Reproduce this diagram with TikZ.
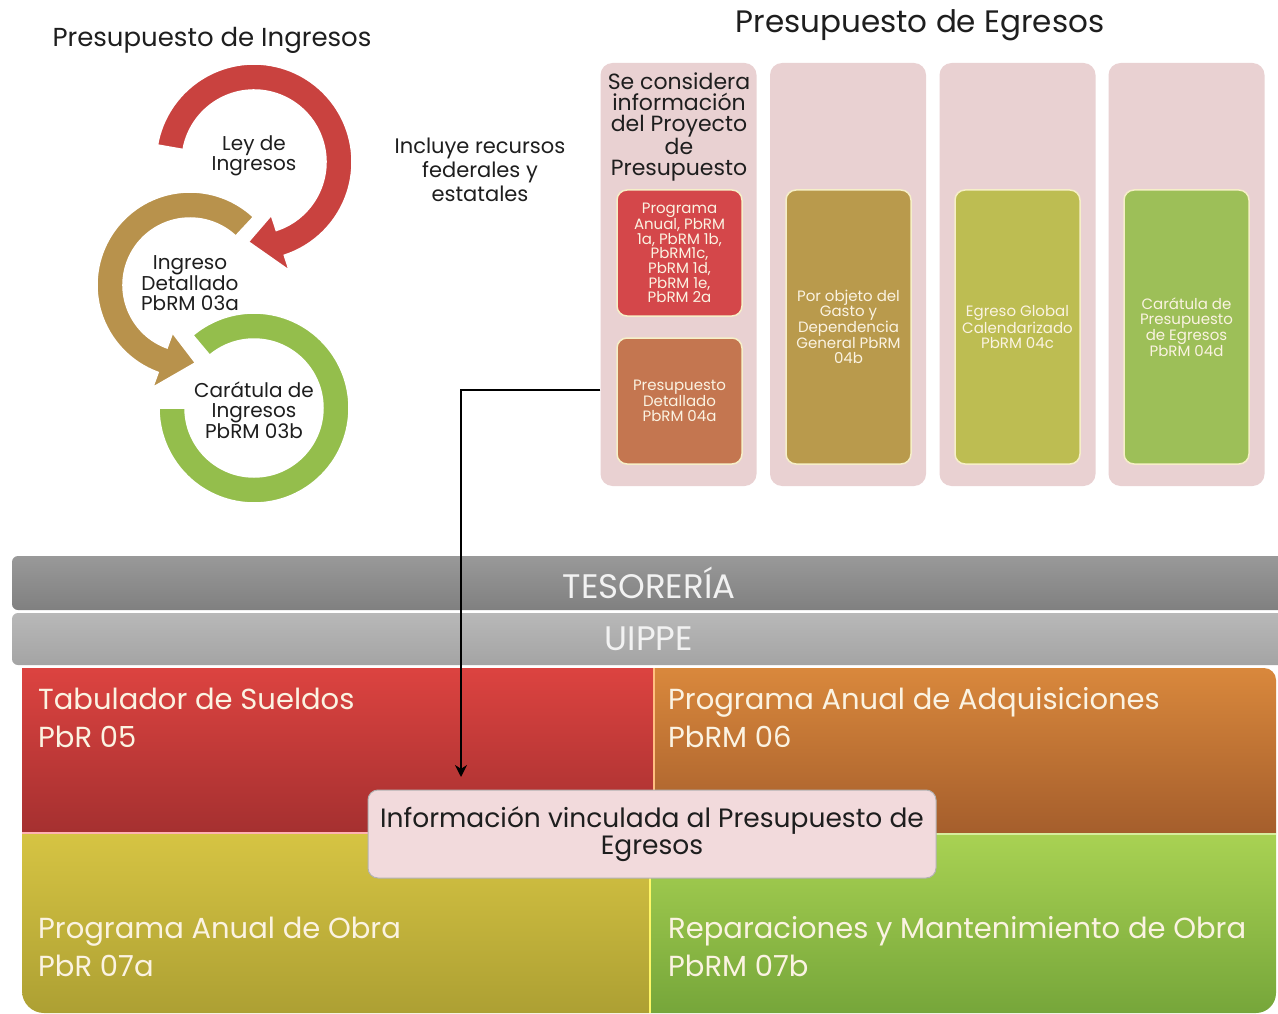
\documentclass[tikz,border=0pt]{standalone}
\usepackage{fontspec}
\setmainfont{Poppins}
\usetikzlibrary{arrows.meta,calc}
\definecolor{pinkpanel}{HTML}{E9D1D2}
\definecolor{boxedge}{HTML}{F6EFC8}
\definecolor{boxA}{HTML}{D4474A}
\definecolor{boxB}{HTML}{C47650}
\definecolor{boxC}{HTML}{B99A4C}
\definecolor{boxD}{HTML}{BDBD52}
\definecolor{boxE}{HTML}{9DBF58}
\definecolor{rring}{HTML}{C9423F}
\definecolor{tring}{HTML}{B8924C}
\definecolor{gring}{HTML}{94BE4C}
\definecolor{redT}{HTML}{DC4340}
\definecolor{redB}{HTML}{A53030}
\definecolor{oraT}{HTML}{D9883C}
\definecolor{oraB}{HTML}{A55E2C}
\definecolor{yelT}{HTML}{D6C443}
\definecolor{yelB}{HTML}{ADA033}
\definecolor{grnT}{HTML}{A9D253}
\definecolor{grnB}{HTML}{76A63A}
\definecolor{tesT}{HTML}{999999}
\definecolor{tesB}{HTML}{808080}
\definecolor{uipT}{HTML}{B8B8B8}
\definecolor{uipB}{HTML}{A4A4A4}
\definecolor{cream}{HTML}{FBF3E2}
\definecolor{infofill}{HTML}{F2DADC}
\definecolor{dark}{HTML}{1E1E1E}
\newcommand{\fsz}[2]{\fontsize{#1}{#2}\selectfont}
\begin{document}
\begin{tikzpicture}[x=1pt,y=-1pt,
  title/.style={text=dark,font=\fsz{26}{28}},
  ringtxt/.style={text=dark,font=\fsz{20}{20},align=center,inner sep=0pt},
  panel/.style={fill=pinkpanel,rounded corners=12pt,minimum width=156pt,minimum height=423pt,inner sep=0pt},
  ibox/.style={draw=boxedge,line width=1.5pt,rounded corners=10pt,minimum width=125pt,text=cream,align=center,font=\fsz{15}{14.6},inner sep=0pt},
  quadtxt/.style={text=cream,font=\fsz{29}{30},anchor=base west,inner sep=0pt},
  bartxt/.style={text=white!95!black,font=\fsz{34}{36}},
  conn/.style={draw=black,line width=2.5pt,-{Stealth[length=12pt,width=12pt]}}]
\useasboundingbox (0,0) rectangle (1278,1014);
\fill[white] (0,0) rectangle (1278,1014);

% titles
\node[title] (tin) at (212,40) {Presupuesto de Ingresos};
\node[title,font=\fsz{31}{32}] (teg) at (920,25) {Presupuesto de Egresos};
\node[text=dark,font=\fsz{21}{24},align=center] (incl) at (480,170) {Incluye recursos\\federales y\\estatales};

% rings
\coordinate (RC) at (254,162);
\coordinate (TC) at (190,285);
\coordinate (GC) at (254,408);
\fill[gring,draw=white,line width=1.5pt] ($(GC)+(-130:95)$) arc[start angle=-130,end angle=180,radius=95]
  -- ($(GC)+(180:69)$) arc[start angle=180,end angle=-130,radius=69] -- cycle;
\fill[tring,draw=white,line width=1.5pt] ($(TC)+(-47:93)$) arc[start angle=-47,end angle=-250,radius=93]
  -- ($(TC)+(-250:109)$) -- ($(TC)+(-274:78)$) -- ($(TC)+(-250:51)$)
  -- ($(TC)+(-250:67)$) arc[start angle=-250,end angle=-47,radius=67] -- cycle;
\fill[rring,draw=white,line width=1.5pt] ($(RC)+(-170:98)$) arc[start angle=-170,end angle=72,radius=98]
  -- ($(RC)+(72:114)$) -- ($(RC)+(94:80)$) -- ($(RC)+(72:56)$)
  -- ($(RC)+(72:72)$) arc[start angle=72,end angle=-170,radius=72] -- cycle;
\node[ringtxt] (ley) at (254,156) {Ley de\\Ingresos};
\node[ringtxt] (ingdet) at (190,283) {Ingreso\\Detallado\\PbRM 03a};
\node[ringtxt] (carIng) at (254,410) {Carátula de\\Ingresos\\PbRM 03b};

% egresos panels
\node[panel] (col1) at (678.5,274.5) {};
\node[panel] (col2) at (848,274.5) {};
\node[panel] (col3) at (1017.5,274.5) {};
\node[panel] (col4) at (1186.5,274.5) {};
\node[text=dark,font=\fsz{22}{21},align=center] (hdr) at (679,127) {Se considera\\información\\del Proyecto\\de\\Presupuesto};
\node[ibox,fill=boxA,minimum height=126pt] (pa) at (679.5,253) {Programa\\Anual, PbRM\\1a, PbRM 1b,\\PbRM1c,\\PbRM 1d,\\PbRM 1e,\\PbRM 2a};
\node[ibox,fill=boxB,minimum height=126pt] (pb) at (679.5,401) {Presupuesto\\Detallado\\PbRM 04a};
\node[ibox,fill=boxC,minimum height=274pt] (pc) at (848.5,327) {Por objeto del\\Gasto y\\Dependencia\\General PbRM\\04b};
\node[ibox,fill=boxD,minimum height=274pt] (pd) at (1017.5,327) {Egreso Global\\Calendarizado\\PbRM 04c};
\node[ibox,fill=boxE,minimum height=274pt] (pe) at (1186.5,327) {Carátula de\\Presupuesto\\de Egresos\\PbRM 04d};

% bars
\node[rounded corners=6pt,top color=tesT,bottom color=tesB,minimum width=1274pt,minimum height=54pt,inner sep=0pt] (tes) at (649,583) {};
\node[bartxt] (testxt) at (tes.center) {TESORERÍA};
\node[rounded corners=6pt,top color=uipT,bottom color=uipB,minimum width=1274pt,minimum height=52pt,inner sep=0pt] (uip) at (649,639) {};
\node[bartxt] (uiptxt) at (uip.center) {UIPPE};

% quadrants
\shade[top color=redT,bottom color=redB] (22,668) -- (653,668) -- (653,833) -- (22,833) -- cycle;
\shade[top color=oraT,bottom color=oraB] (653,668) [rounded corners=12pt] -- (1276,668) [sharp corners] -- (1276,833) -- (653,833) -- cycle;
\shade[top color=yelT,bottom color=yelB] (22,833) -- (650,833) -- (650,1013) [rounded corners=22pt] -- (22,1013) [sharp corners] -- (22,833) -- cycle;
\shade[top color=grnT,bottom color=grnB] (650,833) -- (1276,833) [rounded corners=20pt] -- (1276,1013) [sharp corners] -- (650,1013) -- cycle;
\draw[line width=2pt,red!30!white] (22,833) -- (650,833);
\draw[line width=2pt,yellow!60!green!40!white] (650,834) -- (1276,834);
\draw[line width=2pt,orange!50!white] (654,668) -- (654,832);
\draw[line width=2pt,yellow!60!white] (650,835) -- (650,1013);

\node[quadtxt] (q1a) at (38,709) {Tabulador de Sueldos};
\node[quadtxt] (q1b) at (38,747) {PbR 05};
\node[quadtxt] (q2a) at (668,709) {Programa Anual de Adquisiciones};
\node[quadtxt] (q2b) at (668,747) {PbRM 06};
\node[quadtxt] (q3a) at (38,938) {Programa Anual de Obra};
\node[quadtxt] (q3b) at (38,976) {PbR 07a};
\node[quadtxt] (q4a) at (668,938) {Reparaciones y Mantenimiento de Obra};
\node[quadtxt] (q4b) at (668,976) {PbRM 07b};

% info box
\node[fill=infofill,draw=gray!60,line width=1pt,rounded corners=10pt,minimum width=568pt,minimum height=88pt,
  text=dark,font=\fsz{26.5}{25},align=center,inner sep=0pt] (info) at (652,834) {Información vinculada al Presupuesto de\\Egresos};

% connector
\coordinate (arrend) at (461,777);
\draw[conn] ([yshift=-115.5pt]col1.west) -| (arrend);
\end{tikzpicture}
\end{document}
